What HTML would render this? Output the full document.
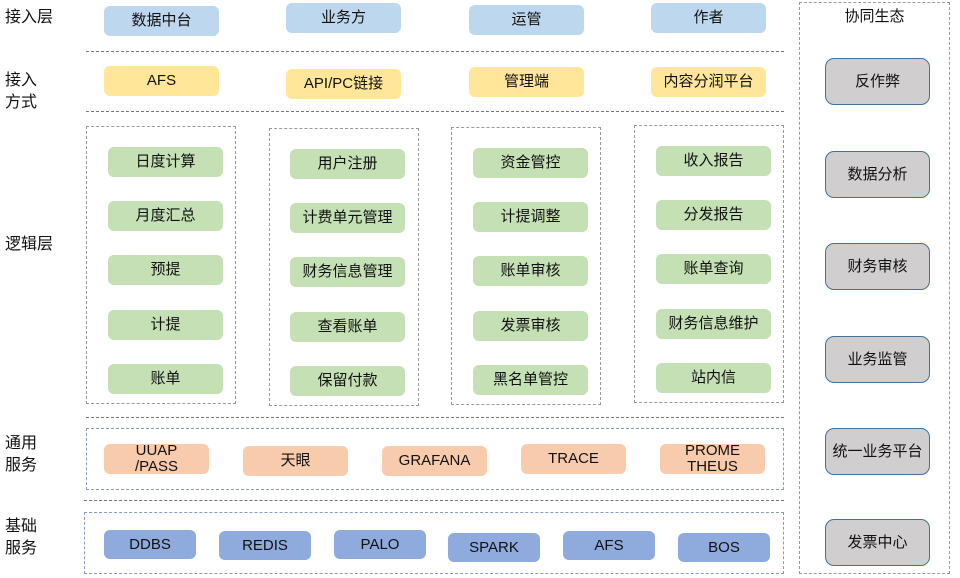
<!DOCTYPE html>
<html><head><meta charset="utf-8"><style>
body{margin:0;width:960px;height:578px;background:#fff;position:relative;overflow:hidden;font-family:"Liberation Sans","Noto Sans CJK SC",sans-serif;color:#111}
.b{position:absolute;border-radius:6px;display:flex;align-items:center;justify-content:center;text-align:center;font-size:15px;line-height:16px;box-sizing:border-box}
.bl{background:#bdd7ee}.y{background:#ffe699}.g{background:#c5e0b4}.o{background:#f8cbad}.d{background:#8faadc}
.gr{background:#d0cece;border:1.5px solid #41719c;border-radius:9px}
.l{position:absolute;font-size:16px;line-height:22px}
.hl{position:absolute;border-top:1px dashed #777;height:0}
.db{position:absolute;border:1px dashed #999;box-sizing:border-box}
.dbb{position:absolute;border:1px dashed #8a9ab8;box-sizing:border-box}
</style></head><body>
<div class="l" style="left:5px;top:7px">接入层</div>
<div class="l" style="left:5px;top:70px">接入<br>方式</div>
<div class="l" style="left:5px;top:234px">逻辑层</div>
<div class="l" style="left:5px;top:433px">通用<br>服务</div>
<div class="l" style="left:5px;top:516px">基础<br>服务</div>

<div class="b bl" style="left:104px;top:6px;width:115px;height:30px">数据中台</div>
<div class="b bl" style="left:286px;top:3px;width:115px;height:30px">业务方</div>
<div class="b bl" style="left:469px;top:5px;width:115px;height:30px">运管</div>
<div class="b bl" style="left:651px;top:3px;width:115px;height:30px">作者</div>
<div class="hl" style="left:86px;top:51px;width:698px"></div>
<div class="b y" style="left:104px;top:66px;width:115px;height:30px">AFS</div>
<div class="b y" style="left:286px;top:69px;width:115px;height:30px">API/PC链接</div>
<div class="b y" style="left:469px;top:67px;width:115px;height:30px">管理端</div>
<div class="b y" style="left:651px;top:67px;width:115px;height:30px">内容分润平台</div>
<div class="hl" style="left:86px;top:111px;width:698px"></div>

<div class="db" style="left:86px;top:126px;width:150px;height:278px"></div>
<div class="db" style="left:269px;top:128px;width:150px;height:278px"></div>
<div class="db" style="left:451px;top:127px;width:150px;height:278px"></div>
<div class="db" style="left:634px;top:125px;width:150px;height:278px"></div>

<div class="b g" style="left:108px;top:147px;width:115px;height:30px">日度计算</div>
<div class="b g" style="left:108px;top:201px;width:115px;height:30px">月度汇总</div>
<div class="b g" style="left:108px;top:255px;width:115px;height:30px">预提</div>
<div class="b g" style="left:108px;top:310px;width:115px;height:30px">计提</div>
<div class="b g" style="left:108px;top:364px;width:115px;height:30px">账单</div>

<div class="b g" style="left:290px;top:149px;width:115px;height:30px">用户注册</div>
<div class="b g" style="left:290px;top:203px;width:115px;height:30px">计费单元管理</div>
<div class="b g" style="left:290px;top:257px;width:115px;height:30px">财务信息管理</div>
<div class="b g" style="left:290px;top:312px;width:115px;height:30px">查看账单</div>
<div class="b g" style="left:290px;top:366px;width:115px;height:30px">保留付款</div>

<div class="b g" style="left:473px;top:148px;width:115px;height:30px">资金管控</div>
<div class="b g" style="left:473px;top:202px;width:115px;height:30px">计提调整</div>
<div class="b g" style="left:473px;top:256px;width:115px;height:30px">账单审核</div>
<div class="b g" style="left:473px;top:311px;width:115px;height:30px">发票审核</div>
<div class="b g" style="left:473px;top:365px;width:115px;height:30px">黑名单管控</div>

<div class="b g" style="left:656px;top:146px;width:115px;height:30px">收入报告</div>
<div class="b g" style="left:656px;top:200px;width:115px;height:30px">分发报告</div>
<div class="b g" style="left:656px;top:254px;width:115px;height:30px">账单查询</div>
<div class="b g" style="left:656px;top:309px;width:115px;height:30px">财务信息维护</div>
<div class="b g" style="left:656px;top:363px;width:115px;height:30px">站内信</div>

<div class="hl" style="left:86px;top:417px;width:698px"></div>
<div class="dbb" style="left:86px;top:428px;width:698px;height:62px"></div>
<div class="b o" style="left:104px;top:444px;width:105px;height:30px">UUAP<br>/PASS</div>
<div class="b o" style="left:243px;top:446px;width:105px;height:30px">天眼</div>
<div class="b o" style="left:382px;top:446px;width:105px;height:30px">GRAFANA</div>
<div class="b o" style="left:521px;top:444px;width:105px;height:30px">TRACE</div>
<div class="b o" style="left:660px;top:444px;width:105px;height:30px">PROME<br>THEUS</div>

<div class="hl" style="left:84px;top:500px;width:700px"></div>
<div class="dbb" style="left:84px;top:512px;width:700px;height:62px"></div>
<div class="b d" style="left:104px;top:530px;width:92px;height:29px">DDBS</div>
<div class="b d" style="left:219px;top:531px;width:92px;height:29px">REDIS</div>
<div class="b d" style="left:334px;top:530px;width:92px;height:29px">PALO</div>
<div class="b d" style="left:448px;top:533px;width:92px;height:29px">SPARK</div>
<div class="b d" style="left:563px;top:531px;width:92px;height:29px">AFS</div>
<div class="b d" style="left:678px;top:533px;width:92px;height:29px">BOS</div>

<div class="db" style="left:799px;top:2px;width:151px;height:572px"></div>
<div class="l" style="left:799px;width:151px;text-align:center;top:6px;font-size:15px">协同生态</div>
<div class="b gr" style="left:825px;top:58px;width:105px;height:47px">反作弊</div>
<div class="b gr" style="left:825px;top:151px;width:105px;height:47px">数据分析</div>
<div class="b gr" style="left:825px;top:243px;width:105px;height:47px">财务审核</div>
<div class="b gr" style="left:825px;top:336px;width:105px;height:47px">业务监管</div>
<div class="b gr" style="left:825px;top:428px;width:105px;height:47px">统一业务平台</div>
<div class="b gr" style="left:825px;top:519px;width:105px;height:47px">发票中心</div>
</body></html>
